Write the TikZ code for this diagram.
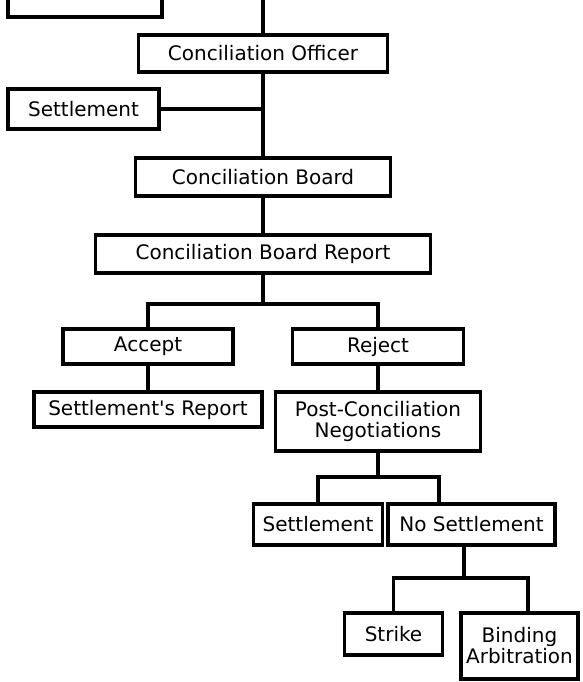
\documentclass[tikz,border=0pt]{standalone}
\usepackage{fontspec}
\setmainfont{DejaVu Sans}
\begin{document}
\begin{tikzpicture}[x=1pt,y=-1pt,
  box/.style={draw, line width=3.5pt, inner sep=0pt, align=center, fill=white,
    font=\fontsize{20}{21}\selectfont},
  conn/.style={line width=3.5pt}]
\useasboundingbox (0,0) rectangle (583,682);
\clip (0,0) rectangle (583,682);
% nodes
\node[box, minimum width=154pt, minimum height=60pt] (prev) at (85,-13) {};
\coordinate (topin) at (263,-10);
\node[box, minimum width=249pt, minimum height=37pt] (officer) at (263,53.5) {Conciliation Officer};
\node[box, minimum width=151pt, minimum height=40pt] (set1) at (83.5,109) {Settlement};
\node[box, minimum width=255pt, minimum height=38pt] (board) at (263,177) {Conciliation Board};
\node[box, minimum width=335pt, minimum height=38pt] (report) at (263,254) {Conciliation Board Report};
\node[box, minimum width=170pt, minimum height=35pt] (accept) at (148,346.5) {Accept};
\node[box, minimum width=171pt, minimum height=35pt] (reject) at (378,346.5) {Reject};
\node[box, minimum width=228pt, minimum height=35pt] (srep) at (148,409.5) {Settlement\textquotesingle s Report};
\node[box, minimum width=205pt, minimum height=59pt] (post) at (378,421.5) {Post-Conciliation\\Negotiations};
\node[box, minimum width=129pt, minimum height=41pt] (set2) at (318,524.5) {Settlement};
\node[box, minimum width=167pt, minimum height=41pt] (noset) at (471.5,524.5) {No Settlement};
\node[box, minimum width=98pt, minimum height=42pt] (strike) at (393.5,634) {Strike};
\node[box, minimum width=117pt, minimum height=66pt] (binding) at (519.5,646) {Binding\\Arbitration};
% connector points
\coordinate (b1) at (263,304);
\coordinate (b2) at (378,477);
\coordinate (nsin) at ([xshift=-32.5pt]noset.north);
\coordinate (nsout) at ([xshift=-7.5pt]noset.south);
\coordinate (b3) at (464,578);
\coordinate (bain) at ([xshift=8.5pt]binding.north);
% connectors
\draw[conn] (topin) -- (officer.north);
\draw[conn] (officer.south) -- (board.north);
\draw[conn] (set1.east) -- (set1.east -| officer.south);
\draw[conn] (board.south) -- (report.north);
\draw[conn] (report.south) -- (b1);
\draw[conn] (accept.north) |- (b1) -| (reject.north);
\draw[conn] (accept.south) -- (srep.north);
\draw[conn] (reject.south) -- (post.north);
\draw[conn] (post.south) -- (b2);
\draw[conn] (set2.north) |- (b2) -| (nsin);
\draw[conn] (nsout) -- (b3);
\draw[conn] (strike.north) |- (b3) -| (bain);
\end{tikzpicture}
\end{document}
